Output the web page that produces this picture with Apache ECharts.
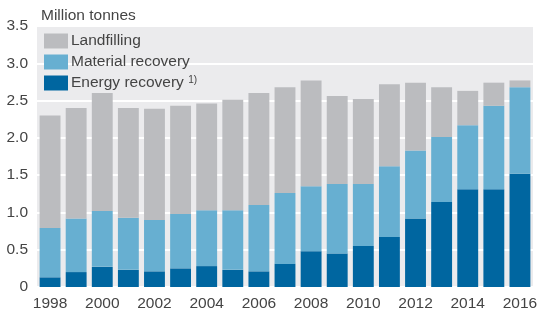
<!DOCTYPE html>
<html>
<head>
<meta charset="utf-8">
<script src="https://cdn.jsdelivr.net/npm/echarts@6/dist/echarts.min.js"></script>
<style>
  html, body { margin: 0; padding: 0; background: #fff; }
  #chart { width: 541px; height: 309px; }
</style>
</head>
<body>
<div id="chart"></div>
<script>
  // values, million tonnes
  let years = ['1998', '1999', '2000', '2001', '2002', '2003', '2004', '2005', '2006', '2007',
    '2008', '2009', '2010', '2011', '2012', '2013', '2014', '2015', '2016'];
  let energyRecovery = [0.13, 0.20, 0.27, 0.23, 0.21, 0.25, 0.28, 0.23, 0.21, 0.31,
    0.48, 0.45, 0.55, 0.67, 0.92, 1.14, 1.31, 1.31, 1.52];
  let materialRecovery = [0.66, 0.72, 0.75, 0.70, 0.69, 0.73, 0.75, 0.80, 0.89, 0.95,
    0.87, 0.93, 0.83, 0.95, 0.91, 0.87, 0.86, 1.12, 1.16];
  let landfilling = [1.51, 1.48, 1.58, 1.47, 1.49, 1.45, 1.43, 1.48, 1.50, 1.42,
    1.42, 1.18, 1.14, 1.10, 0.91, 0.67, 0.46, 0.31, 0.09];

  let font = '"Liberation Sans", Arial, sans-serif';
  let txt = '#444444';
  let chart = echarts.init(document.getElementById('chart'));
  let options = {
    animation: false,
    textStyle: { fontFamily: font },
    title: {
      text: 'Million tonnes',
      left: 41,
      top: 8,
      padding: 0,
      textStyle: { fontSize: 15.5, fontWeight: 'normal', color: txt, fontFamily: font }
    },
    legend: {
      orient: 'vertical',
      left: 44,
      top: 33,
      padding: 0,
      itemWidth: 24,
      itemHeight: 15,
      itemGap: 5,
      icon: 'rect',
      data: ['Landfilling', 'Material recovery', 'Energy recovery'],
      formatter: function (name) {
        return name == 'Energy recovery' ? name + ' {sup|1)}' : name;
      },
      textStyle: {
        fontSize: 15.5,
        lineHeight: 15,
        color: txt,
        fontFamily: font,
        padding: [0, 0, 0, -2],
        rich: {
          sup: { fontSize: 10, color: txt, verticalAlign: 'top', padding: [0, 0, 8, 0] }
        }
      }
    },
    grid: {
      left: 37,
      right: 8,
      top: 26,
      bottom: 22,
      outerBoundsMode: 'none',
      containLabel: false,
      show: true,
      backgroundColor: '#ebebed',
      borderWidth: 0
    },
    xAxis: {
      type: 'category',
      data: years,
      axisLine: { show: false },
      axisTick: { show: false },
      axisLabel: { interval: 1, fontSize: 15.5, color: txt, margin: 9, fontFamily: font }
    },
    yAxis: {
      type: 'value',
      min: 0,
      max: 3.5,
      interval: 0.5,
      axisLine: { show: false },
      axisTick: { show: false },
      splitLine: { lineStyle: { color: '#ffffff', width: 2 } },
      axisLabel: {
        fontSize: 15.5,
        color: txt,
        margin: 9,
        fontFamily: font,
        formatter: function (v) { return v === 0 ? '0' : v.toFixed(1); }
      }
    },
    series: [
      {
        name: 'Energy recovery',
        type: 'bar',
        stack: 'total',
        barCategoryGap: '20%',
        itemStyle: { color: '#0066a0' },
        data: energyRecovery
      },
      {
        name: 'Material recovery',
        type: 'bar',
        stack: 'total',
        itemStyle: { color: '#67afd1' },
        data: materialRecovery
      },
      {
        name: 'Landfilling',
        type: 'bar',
        stack: 'total',
        itemStyle: { color: '#bbbcbf' },
        data: landfilling
      }
    ]
  };
  chart.setOption(options);
</script>
</body>
</html>
